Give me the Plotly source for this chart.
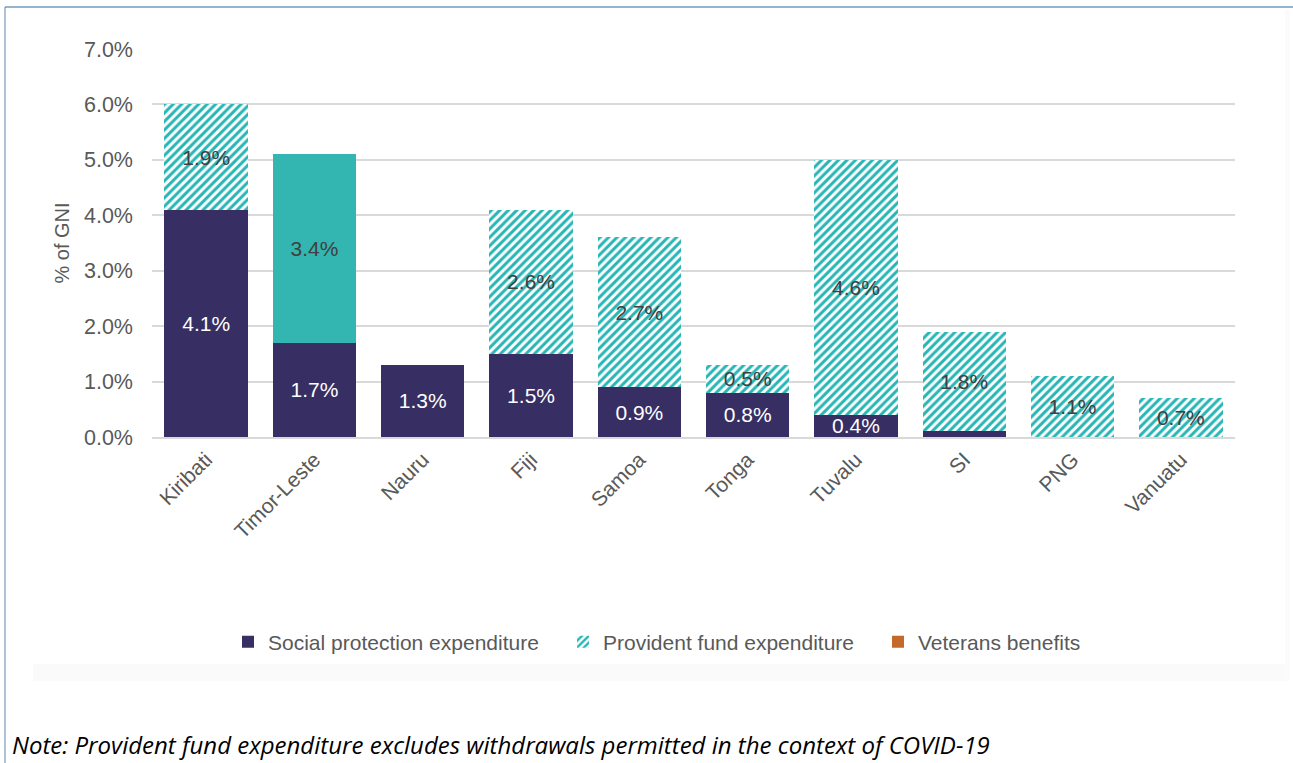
import plotly.graph_objects as go

# Social protection, provident fund and veterans spending, % of GNI
countries = ["Kiribati", "Timor-Leste", "Nauru", "Fiji", "Samoa",
             "Tonga", "Tuvalu", "SI", "PNG", "Vanuatu"]
social_protection = [4.1, 1.7, 1.3, 1.5, 0.9, 0.8, 0.4, 0.1, 0.0, 0.0]
provident_fund = [1.9, 3.4, 0.0, 2.6, 2.7, 0.5, 4.6, 1.8, 1.1, 0.7]
veterans_benefits = [0, 0, 0, 0, 0, 0, 0, 0, 0, 0]
y_ticks = [0, 1, 2, 3, 4, 5, 6, 7]
solid_fill_countries = ["Timor-Leste"]

NAVY = "#372e63"
TEAL = "#27b5b5"
TEAL_SOLID = "#33b5b1"
ORANGE = "#c5692a"
TEXT_GREY = "#595959"
FONT = "Liberation Sans"

W, H = 1293, 763
L, R, T, B = 152, 58, 49, 326
PW, PH = W - L - R, H - T - B


def px_x(x):
    return (x - L) / PW


def px_y(y):
    return (H - B - y) / PH


def label(v, show_small=True):
    if v <= 0 or (v < 0.2 and not show_small):
        return ""
    return f"{v:.1f}%"


# Provident fund split: hatched for most countries, solid for Timor-Leste
is_solid = [c in solid_fill_countries for c in countries]
pf_hatched = [0.0 if s else v for s, v in zip(is_solid, provident_fund)]
pf_solid = [v if s else 0.0 for s, v in zip(is_solid, provident_fund)]

fig = go.Figure()
fig.add_trace(go.Bar(
    name="Social protection expenditure", x=countries, y=social_protection,
    marker=dict(color=NAVY, line=dict(width=0)),
    text=[label(v, show_small=False) for v in social_protection],
    textposition="inside", insidetextanchor="middle",
    textfont=dict(color="white", size=21, family=FONT),
    textangle=0, constraintext="none", cliponaxis=False,
    legend="legend",
))
fig.add_trace(go.Bar(
    name="Provident fund expenditure", x=countries, y=pf_hatched,
    marker=dict(
        color="white",
        line=dict(width=0),
        pattern=dict(shape="/", fgcolor=TEAL, bgcolor="white",
                     size=6, solidity=0.5, fillmode="replace"),
    ),
    text=[label(v) for v in pf_hatched],
    textposition="inside", insidetextanchor="middle",
    textfont=dict(color="#404040", size=21, family=FONT),
    textangle=0, constraintext="none", cliponaxis=False,
    legend="legend2",
))
fig.add_trace(go.Bar(
    name="Provident fund expenditure", x=countries, y=pf_solid,
    marker=dict(color=TEAL_SOLID, line=dict(width=0)),
    text=[label(v) for v in pf_solid],
    textposition="inside", insidetextanchor="middle",
    textfont=dict(color="#404040", size=21, family=FONT),
    textangle=0, constraintext="none", cliponaxis=False,
    legend="legend2", showlegend=False,
))
fig.add_trace(go.Bar(
    name="Veterans benefits", x=countries, y=veterans_benefits,
    marker=dict(color=ORANGE, line=dict(width=0)),
    legend="legend3",
))

shapes = [
    # soft panel edge behind the chart
    dict(type="rect", xref="paper", yref="paper",
         x0=px_x(33), x1=px_x(1290), y0=px_y(681), y1=px_y(664),
         fillcolor="#fafafa", line=dict(width=0), layer="below"),
    dict(type="rect", xref="paper", yref="paper",
         x0=px_x(1285), x1=px_x(1290), y0=px_y(681), y1=px_y(10),
         fillcolor="#fbfbfb", line=dict(width=0), layer="below"),
    # frame lines
    dict(type="line", xref="paper", yref="paper",
         x0=px_x(5), x1=px_x(1293), y0=px_y(7), y1=px_y(7),
         line=dict(color="#6f9cbf", width=1.5)),
    dict(type="line", xref="paper", yref="paper",
         x0=px_x(5), x1=px_x(5), y0=px_y(7), y1=px_y(763),
         line=dict(color="#5b88b3", width=1)),
]


def legend_at(x_px):
    return dict(
        orientation="h", x=px_x(x_px), xanchor="left",
        y=px_y(642), yanchor="middle",
        font=dict(size=21, color=TEXT_GREY, family=FONT),
        bgcolor="rgba(0,0,0,0)", itemclick=False,
    )


fig.update_layout(
    width=W, height=H,
    margin=dict(l=L, r=R, t=T, b=B, autoexpand=False),
    barmode="stack", bargap=0.23,
    showlegend=True,
    paper_bgcolor="white", plot_bgcolor="white",
    font=dict(family=FONT, color=TEXT_GREY, size=21),
    xaxis=dict(
        tickangle=-45, tickfont=dict(size=21, color=TEXT_GREY),
        showgrid=False, showline=True, linecolor="#d9d9d9", linewidth=2,
        ticks="", ticklen=0,
    ),
    yaxis=dict(
        range=[0, 7], tickvals=y_ticks,
        ticktext=[f"{v:.1f}%" for v in y_ticks],
        tickfont=dict(size=21.5, color=TEXT_GREY),
        showgrid=True, gridcolor="#d9d9d9", gridwidth=2,
        zeroline=False, ticks="", ticklabelstandoff=18,
        title=dict(text="% of GNI", font=dict(size=20, color=TEXT_GREY),
                   standoff=8),
    ),
    legend=legend_at(228),
    legend2=legend_at(563),
    legend3=legend_at(878),
    shapes=shapes,
    annotations=[dict(
        text="<i>Note: Provident fund expenditure excludes withdrawals "
             "permitted in the context of COVID-19</i>",
        xref="paper", yref="paper", x=px_x(10), y=px_y(745),
        xanchor="left", yanchor="middle", showarrow=False,
        font=dict(family="Open Sans", size=24, color="#000000"),
    )],
)

fig.write_html("out.html")
